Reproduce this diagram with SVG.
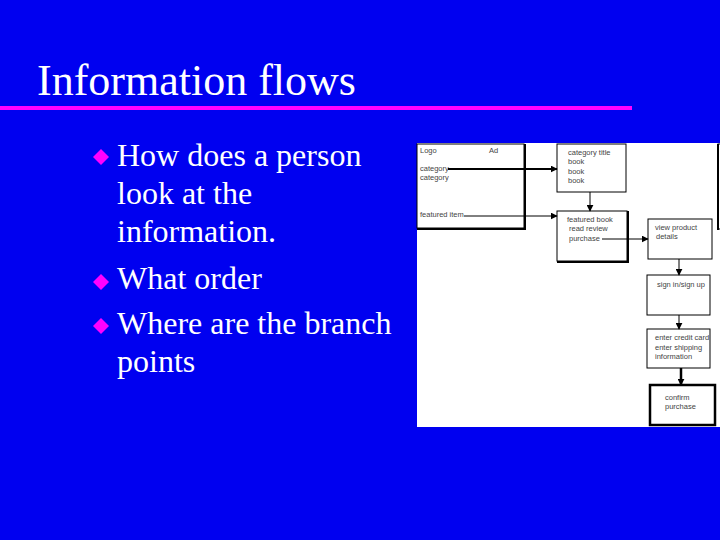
<svg xmlns="http://www.w3.org/2000/svg" width="720" height="540" viewBox="0 0 720 540">
<defs>
<style>
.title{font-family:"Liberation Serif","Times New Roman",serif;font-size:44px;fill:#fff}
.bul{font-family:"Liberation Serif","Times New Roman",serif;font-size:32px;fill:#fff}
.dia{fill:#ff00ff}
.box{fill:#fff;stroke:#000;stroke-width:1}
.sh{stroke:#000;stroke-width:2;fill:none}
.t{font-family:"Liberation Sans",Arial,sans-serif;font-size:7.5px;fill:#444}
.c{stroke:#000;fill:none}
</style>
<marker id="ah" viewBox="0 0 10 10" refX="9" refY="5" markerWidth="4" markerHeight="4" orient="auto" markerUnits="userSpaceOnUse">
<path d="M0,0 L10,5 L0,10 Z" fill="#000"/>
</marker>
<marker id="ah2" viewBox="0 0 10 10" refX="9" refY="5" markerWidth="7" markerHeight="7" orient="auto" markerUnits="userSpaceOnUse">
<path d="M0,0 L10,5 L0,10 Z" fill="#000"/>
</marker>
</defs>
<rect width="720" height="540" fill="#0000F0"/>
<g id="title">
<text class="title" x="37" y="95">Information flows</text>
<rect x="0" y="106" width="632" height="4" fill="#FF00FF"/>
</g>
<g id="bullets">
<path class="dia" d="M101,149 L109,157 L101,165 L93,157 Z"/>
<path class="dia" d="M101,274 L109,282 L101,290 L93,282 Z"/>
<path class="dia" d="M101,318 L109,326 L101,334 L93,326 Z"/>
<text class="bul" x="117" y="166">How does a person</text>
<text class="bul" x="117" y="204">look at the</text>
<text class="bul" x="117" y="242">information.</text>
<text class="bul" x="117" y="289">What order</text>
<text class="bul" x="117" y="334">Where are the branch</text>
<text class="bul" x="117" y="372">points</text>
</g>
<rect x="417" y="143" width="303" height="284" fill="#fff"/>
<g id="home">
<rect class="box" x="417" y="144" width="107" height="84"/>
<path class="sh" d="M525,144 V229 H417"/>
<text class="t" x="420" y="153">Logo</text>
<text class="t" x="489" y="153">Ad</text>
<text class="t" x="420" y="171">category</text>
<text class="t" x="420" y="180">category</text>
<text class="t" x="420" y="217">featured item</text>
</g>
<g id="category">
<rect class="box" x="557" y="144" width="69" height="48"/>
<text class="t" x="568" y="155">category title</text>
<text class="t" x="568" y="164">book</text>
<text class="t" x="568" y="174">book</text>
<text class="t" x="568" y="183">book</text>
</g>
<g id="featured">
<rect class="box" x="557" y="211" width="70" height="50"/>
<path class="sh" d="M628,211 V262 H557"/>
<text class="t" x="567" y="222">featured book</text>
<text class="t" x="569" y="231">read review</text>
<text class="t" x="569" y="241">purchase</text>
</g>
<g id="view">
<rect class="box" x="648" y="219" width="64" height="40"/>
<text class="t" x="655" y="230">view product</text>
<text class="t" x="656" y="239">details</text>
</g>
<g id="right">
<rect class="box" x="718" y="144" width="10" height="85"/>
<path class="sh" d="M718,144 V230"/>
</g>
<g id="signin">
<rect class="box" x="647" y="275" width="63" height="40"/>
<text class="t" x="657" y="287">sign in/sign up</text>
</g>
<g id="credit">
<rect class="box" x="647" y="329" width="63" height="39"/>
<text class="t" x="655" y="340">enter credit card</text>
<text class="t" x="655" y="350">enter shipping</text>
<text class="t" x="655" y="359">information</text>
</g>
<g id="confirm">
<rect x="650" y="385" width="65" height="40" fill="#fff" stroke="#000" stroke-width="2.5"/>
<text class="t" x="665" y="400">confirm</text>
<text class="t" x="665" y="409">purchase</text>
</g>
<g id="connectors">
<line class="c" stroke-width="2" x1="448" y1="169" x2="557" y2="169" marker-end="url(#ah2)"/>
<line class="c" stroke-width="1" x1="464" y1="216" x2="557" y2="216" marker-end="url(#ah2)"/>
<line class="c" stroke-width="1" x1="590" y1="192" x2="590" y2="211" marker-end="url(#ah2)"/>
<line class="c" stroke-width="1" x1="602" y1="239" x2="648" y2="239" marker-end="url(#ah2)"/>
<line class="c" stroke-width="1" x1="679" y1="259" x2="679" y2="275" marker-end="url(#ah2)"/>
<line class="c" stroke-width="1" x1="679" y1="315" x2="679" y2="329" marker-end="url(#ah2)"/>
<line class="c" stroke-width="2.5" x1="681" y1="368" x2="681" y2="385" marker-end="url(#ah2)"/>
</g>
</svg>
